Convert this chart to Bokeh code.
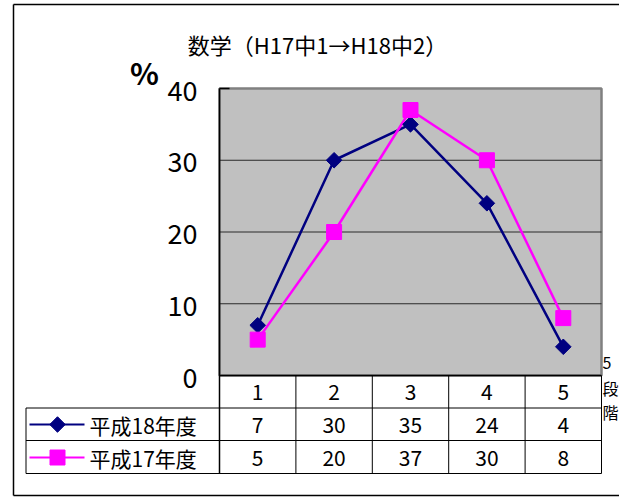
import math
from bokeh.plotting import figure
from bokeh.models import Range1d
from bokeh.core.properties import value
from bokeh.embed import file_html
from bokeh.resources import INLINE

# ---- data ----
categories = ["1", "2", "3", "4", "5"]
cat_x = [1, 2, 3, 4, 5]
h18 = [7, 30, 35, 24, 4]
h17 = [5, 20, 37, 30, 8]
series_names = ["平成18年度", "平成17年度"]
y_ticks = [0, 10, 20, 30, 40]
title_text = "数学（H17中1→H18中2）"
unit_label = "%"
side_label = ["5", "段", "階"]

FONT = value("Noto Sans CJK JP")
W, H = 619, 497

# layout helpers (pixel -> data), layout only
PX0, COLW = 219.0, 76.4       # plot-area left, column width
PY0, PPU = 375.0, 7.175       # y of value 0, px per unit


def X(px):
    return 0.5 + (px - PX0) / COLW


def Y(py):
    return (PY0 - py) / PPU


p = figure(width=W, height=H, output_backend="svg", toolbar_location=None,
           x_range=Range1d(X(0), X(W)), y_range=Range1d(Y(H), Y(0)),
           min_border=0, x_axis_type=None, y_axis_type=None)
p.grid.visible = False
p.outline_line_color = None
p.background_fill_color = "white"
p.border_fill_color = "white"

# outer chart border
p.segment(x0=[X(13), X(13), X(13)], y0=[Y(4), Y(4), Y(495)],
          x1=[X(13), X(640), X(640)], y1=[Y(495), Y(4), Y(495)],
          line_color="black", line_width=1.5)

# plot area
p.quad(left=[0.5], right=[5.5], bottom=[0], top=[y_ticks[-1]],
       fill_color="#C0C0C0", line_color="#808080", line_width=2.5)

# gridlines
grid_vals = y_ticks[1:-1]
p.segment(x0=[0.5] * len(grid_vals), x1=[5.5] * len(grid_vals),
          y0=grid_vals, y1=grid_vals, line_color="#2a2a2a", line_width=1)

# y axis line + top tick
p.segment(x0=[0.5], y0=[y_ticks[-1]], x1=[0.5], y1=[Y(473)],
          line_color="black", line_width=1.5)
p.segment(x0=[0.5], y0=[y_ticks[-1]], x1=[X(229)], y1=[y_ticks[-1]],
          line_color="black", line_width=1.5)

# table lines
row_lines = [Y(407.5), Y(440), Y(473)]
p.segment(x0=[X(25.5)] * 3, x1=[5.5] * 3, y0=row_lines, y1=row_lines,
          line_color="black", line_width=1)
p.segment(x0=[0.5], x1=[5.5], y0=[0], y1=[0], line_color="black", line_width=1.5)
col_lines = [1.5, 2.5, 3.5, 4.5, 5.5]
p.segment(x0=col_lines, x1=col_lines, y0=[0] * 5, y1=[Y(473)] * 5,
          line_color="black", line_width=1)
p.segment(x0=[X(25.5)], x1=[X(25.5)], y0=[Y(407.5)], y1=[Y(473)],
          line_color="black", line_width=1)

# y tick labels
p.text(x=[X(197)] * len(y_ticks), y=y_ticks, text=[str(v) for v in y_ticks],
       text_font=FONT, text_font_size="27px", text_align="right",
       text_baseline="middle", y_offset=2, text_color="black")

# title and unit
p.text(x=[X(317)], y=[Y(43)], text=[title_text], text_font=FONT,
       text_font_size="22px", text_align="center", text_baseline="middle",
       text_color="black")
p.text(x=[X(144)], y=[Y(71)], text=[unit_label], text_font=FONT,
       text_font_size="30px", text_align="center", text_baseline="middle",
       text_color="black", text_font_style="bold")

# side label
p.text(x=[X(602)] * 3, y=[Y(362), Y(387), Y(411)], text=side_label,
       text_font=FONT, text_font_size="16px", text_align="left",
       text_baseline="middle", text_color="black")

# series
NAVY, MAG = "#000080", "#FF00FF"
p.line(cat_x, h18, line_color=NAVY, line_width=2.5)
p.line(cat_x, h17, line_color=MAG, line_width=2.5)
p.scatter(cat_x, h18, marker="square", angle=math.pi / 4, size=11,
          fill_color=NAVY, line_color=NAVY)
p.scatter(cat_x, h17, marker="square", size=15, fill_color=MAG, line_color=MAG)

# table: categories
p.text(x=cat_x, y=[Y(391)] * 5, text=categories, text_font=FONT,
       text_font_size="21px", text_align="center", text_baseline="middle",
       text_color="black")
# table: values
for vals, ry in ((h18, Y(424)), (h17, Y(457))):
    p.text(x=cat_x, y=[ry] * 5, text=[str(v) for v in vals], text_font=FONT,
           text_font_size="21px", text_align="center", text_baseline="middle",
           text_color="black")

# table: legend keys
for (name, col, ry, mk) in ((series_names[0], NAVY, Y(424), "d"),
                            (series_names[1], MAG, Y(457), "s")):
    p.segment(x0=[X(29)], x1=[X(84)], y0=[ry], y1=[ry], line_color=col, line_width=2)
    if mk == "d":
        p.scatter([X(57)], [ry], marker="square", angle=math.pi / 4, size=11,
                  fill_color=col, line_color=col)
    else:
        p.scatter([X(57)], [ry], marker="square", size=15, fill_color=col, line_color=col)
    p.text(x=[X(89)], y=[ry], text=[name], text_font=FONT, text_font_size="21px",
           text_align="left", text_baseline="middle", text_color="black")

open("out.html", "w").write(file_html(p, INLINE))
